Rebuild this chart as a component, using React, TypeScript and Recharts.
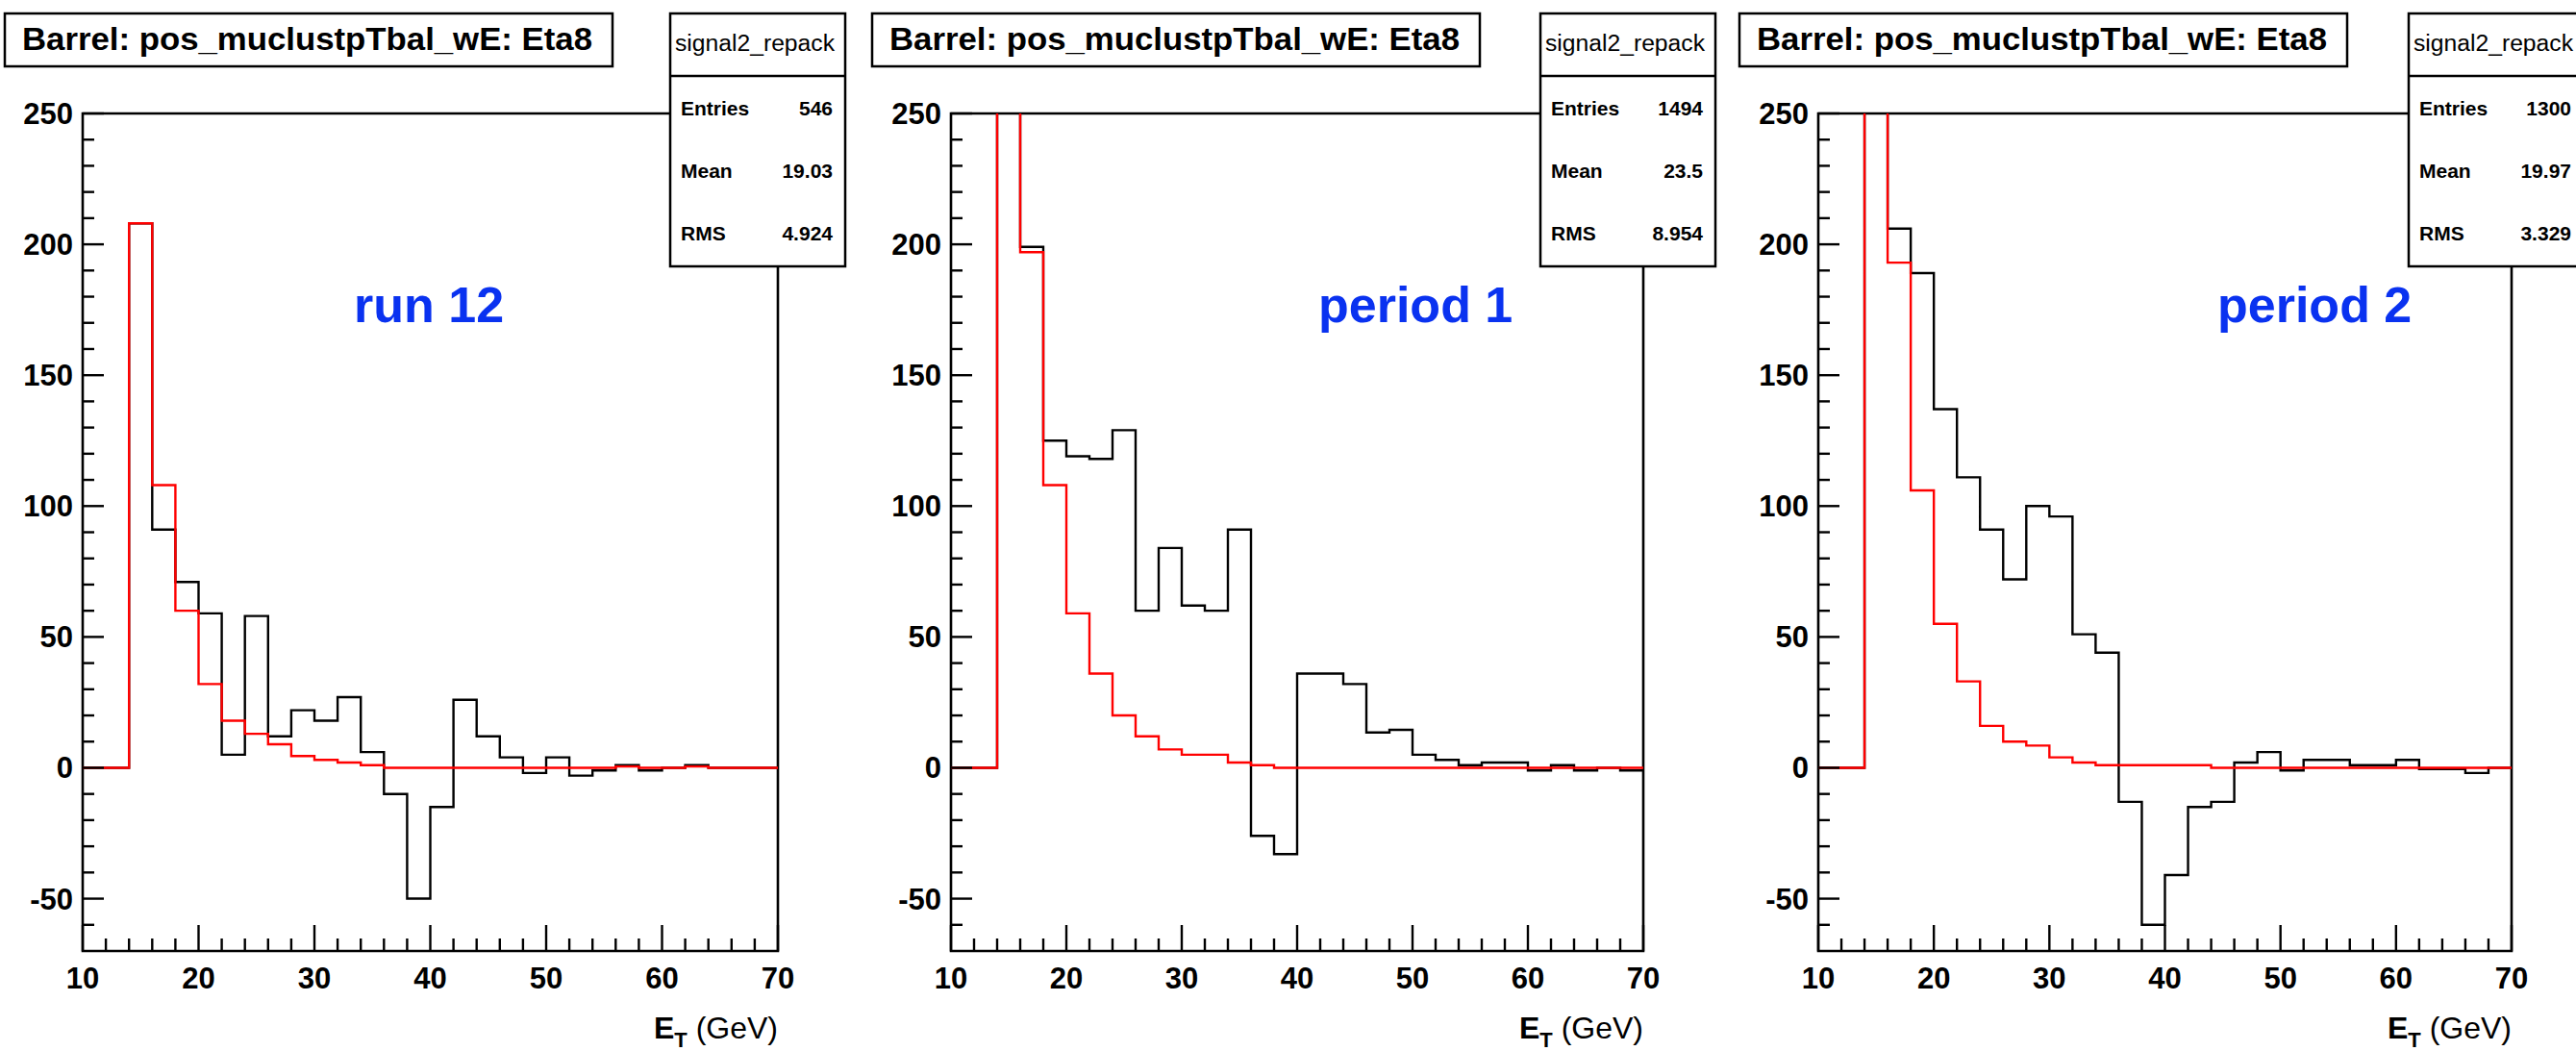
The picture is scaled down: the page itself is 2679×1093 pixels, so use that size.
import React from 'react'
import { LineChart, Line, XAxis, YAxis, ReferenceArea } from 'recharts'

// bin low edges (2 GeV bins), last bin ends at 70
const binLow = [10, 12, 14, 16, 18, 20, 22, 24, 26, 28, 30, 32, 34, 36, 38, 40, 42, 44, 46, 48, 50, 52, 54, 56, 58, 60, 62, 64, 66, 68]
const xTicks = [10, 12, 14, 16, 18, 20, 22, 24, 26, 28, 30, 32, 34, 36, 38, 40, 42, 44, 46, 48, 50, 52, 54, 56, 58, 60, 62, 64, 66, 68, 70]
const yTicks = [-60, -50, -40, -30, -20, -10, 0, 10, 20, 30, 40, 50, 60, 70, 80, 90, 100, 110, 120, 130, 140, 150, 160, 170, 180, 190, 200, 210, 220, 230, 240, 250]

// red = signal, black = data
const run12Signal = [0, 0, 208, 108, 60, 32, 18, 13, 9, 4.5, 3, 2, 1, 0, 0, 0, 0, 0, 0, 0, 0, 0, 0, 0.5, 0, 0, 0.5, 0, 0, 0]
const run12Data = [0, 0, 208, 91, 71, 59, 5, 58, 12, 22, 18, 27, 6, -10, -50, -15, 26, 12, 4, -2, 4, -3, -1, 1, -1, 0, 1, 0, 0, 0]

const period1Signal = [0, 0, 330, 197, 108, 59, 36, 20, 12, 7, 5, 5, 2, 1, 0, 0, 0, 0, 0, 0, 0, 0, 0, 0, 0, 0, 0, 0, 0, 0]
const period1Data = [0, 0, 330, 199, 125, 119, 118, 129, 60, 84, 62, 60, 91, -26, -33, 36, 36, 32, 13.5, 14.5, 5, 3, 1, 2, 2, -1, 1, -1, 0, -1]

const period2Signal = [0, 0, 330, 193, 106, 55, 33, 16, 10, 8.5, 4, 2, 1, 1, 1, 1, 1, 0, 0, 0, 0, 0, 0, 0, 0, 0, 0, 0, 0, 0]
const period2Data = [0, 0, 330, 206, 189, 137, 111, 91, 72, 100, 96, 51, 44, -13, -60, -41, -15, -13, 2, 6, -1, 3, 3, 1, 1, 3, -0.5, -0.5, -2, 0]

const statLabels = ['Entries', 'Mean', 'RMS']
const run12Stats = ['546', '19.03', '4.924']
const period1Stats = ['1494', '23.5', '8.954']
const period2Stats = ['1300', '19.97', '3.329']

const TITLE = 'Barrel: pos_muclustpTbal_wE: Eta8'
const FONT = '"Liberation Sans", Arial, Helvetica, sans-serif'
const BLUE = '#0a32f0'
const PAGE_W = 2679
const PAGE_H = 1093
const PLOT_TOP = 118
const PLOT_BOTTOM = 989

function buildRows(signal: number[], data: number[]) {
    const rows = binLow.map((x, i) => ({ x, signal: signal[i], data: data[i] }))
    rows.push({ x: 70, signal: signal[signal.length - 1], data: data[data.length - 1] })
    return rows
}

const panels = [
    { label: 'run 12', rows: buildRows(run12Signal, run12Data), stats: run12Stats, plotLeft: 86, plotRight: 809, titleLeft: 5, statsLeft: 697, labelX: 368 },
    { label: 'period 1', rows: buildRows(period1Signal, period1Data), stats: period1Stats, plotLeft: 989, plotRight: 1709, titleLeft: 907, statsLeft: 1602, labelX: 1371 },
    { label: 'period 2', rows: buildRows(period2Signal, period2Data), stats: period2Stats, plotLeft: 1891, plotRight: 2612, titleLeft: 1809, statsLeft: 2505, labelX: 2306 },
]

// ROOT style ticks: drawn inwards, labels only on majors
const renderYTick = (props: any) => {
    const { x, y, payload } = props
    const v = payload.value
    const major = v % 50 === 0
    return (
        <g>
            <line x1={x} x2={x + (major ? 22 : 12)} y1={y} y2={y} stroke="#000" strokeWidth={2.4} />
            {major && (
                <text x={x - 10} y={y + 11} textAnchor="end" fontFamily={FONT} fontWeight="bold" fontSize={31} fill="#000">
                    {v}
                </text>
            )}
        </g>
    )
}

const renderXTick = (props: any) => {
    const { x, y, payload } = props
    const v = payload.value
    const major = v % 10 === 0
    return (
        <g>
            <line x1={x} x2={x} y1={y} y2={y - (major ? 27 : 13)} stroke="#000" strokeWidth={2.4} />
            {major && (
                <text x={x} y={y + 39} textAnchor="middle" fontFamily={FONT} fontWeight="bold" fontSize={31} fill="#000">
                    {v}
                </text>
            )}
        </g>
    )
}

function Histo({ p }: { p: (typeof panels)[number] }) {
    const padL = 100
    const padR = 20
    const width = p.plotRight - p.plotLeft + padL + padR
    return (
        <div style={{ position: 'absolute', left: p.plotLeft - padL, top: 0 }}>
            <LineChart
                width={width}
                height={PAGE_H}
                data={p.rows}
                margin={{ top: PLOT_TOP, right: padR, left: padL - 80, bottom: PAGE_H - PLOT_BOTTOM - 60 }}
            >
                <XAxis
                    type="number"
                    dataKey="x"
                    domain={[10, 70]}
                    ticks={xTicks}
                    interval={0}
                    allowDataOverflow
                    height={60}
                    tickSize={0}
                    tickMargin={0}
                    tickLine={false}
                    axisLine={false}
                    tick={renderXTick}
                />
                <YAxis
                    type="number"
                    domain={[-70, 250]}
                    ticks={yTicks}
                    interval={0}
                    allowDataOverflow
                    width={80}
                    tickSize={0}
                    tickMargin={0}
                    tickLine={false}
                    axisLine={false}
                    tick={renderYTick}
                />
                <ReferenceArea x1={10} x2={70} y1={-70} y2={250} fill="none" stroke="#000" strokeWidth={2.6} ifOverflow="visible" />
                <Line type="stepAfter" dataKey="data" stroke="#000" strokeWidth={2.4} dot={false} activeDot={false} isAnimationActive={false} />
                <Line type="stepAfter" dataKey="signal" stroke="#ff0000" strokeWidth={2.4} dot={false} activeDot={false} isAnimationActive={false} />
            </LineChart>
        </div>
    )
}

export default function App() {
    return (
        <div style={{ position: 'absolute', left: 0, top: 0, width: PAGE_W, height: PAGE_H, background: '#fff', overflow: 'hidden' }}>
            {panels.map((p) => (
                <Histo key={p.label} p={p} />
            ))}
            <svg width={PAGE_W} height={PAGE_H} style={{ position: 'absolute', left: 0, top: 0 }} fontFamily={FONT}>
                {panels.map((p) => (
                    <g key={p.label}>
                        {/* title box */}
                        <rect x={p.titleLeft} y={14} width={632} height={55} fill="#fff" stroke="#000" strokeWidth={2.5} />
                        <text x={p.titleLeft + 18} y={52} fontSize={34} fontWeight="bold" textLength={593} lengthAdjust="spacingAndGlyphs">
                            {TITLE}
                        </text>

                        {/* stats box */}
                        <rect x={p.statsLeft} y={14} width={182} height={263} fill="#fff" stroke="#000" strokeWidth={2.5} />
                        <line x1={p.statsLeft} x2={p.statsLeft + 182} y1={79} y2={79} stroke="#000" strokeWidth={2.5} />
                        <text x={p.statsLeft + 88} y={53} fontSize={23} textAnchor="middle" textLength={166} lengthAdjust="spacingAndGlyphs">
                            signal2_repack
                        </text>
                        {statLabels.map((s, i) => (
                            <g key={s}>
                                <text x={p.statsLeft + 11} y={120 + i * 65} fontSize={21} fontWeight="bold">
                                    {s}
                                </text>
                                <text x={p.statsLeft + 169} y={120 + i * 65} fontSize={21} fontWeight="bold" textAnchor="end">
                                    {p.stats[i]}
                                </text>
                            </g>
                        ))}

                        {/* blue run label */}
                        <text x={p.labelX} y={335} fontSize={52} fontWeight="bold" fill={BLUE}>
                            {p.label}
                        </text>

                        {/* x-axis title */}
                        <text x={p.plotRight} y={1080} textAnchor="end" fontSize={32}>
                            <tspan fontWeight="bold">E</tspan>
                            <tspan fontWeight="bold" fontSize={22} dy={9}>T</tspan>
                            <tspan dy={-9}> (GeV)</tspan>
                        </text>
                    </g>
                ))}
            </svg>
        </div>
    )
}
